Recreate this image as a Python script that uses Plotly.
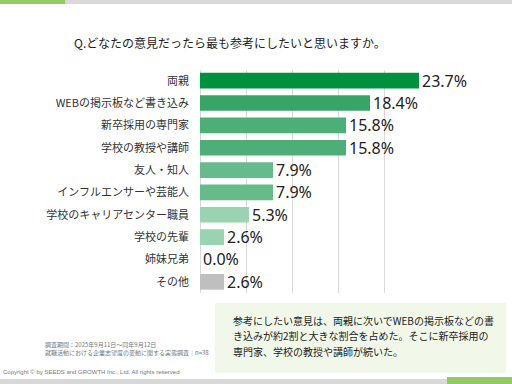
import plotly.graph_objects as go

categories = ["両親", "WEBの掲示板など書き込み", "新卒採用の専門家", "学校の教授や講師",
              "友人・知人", "インフルエンサーや芸能人", "学校のキャリアセンター職員",
              "学校の先輩", "姉妹兄弟", "その他"]
values = [23.7, 18.4, 15.8, 15.8, 7.9, 7.9, 5.3, 2.6, 0.0, 2.6]
colors = ["#00913F", "#38A468", "#4DAE78", "#4DAE78", "#67BB8B", "#67BB8B",
          "#9AD3B2", "#9AD3B2", "#9AD3B2", "#BFBFBF"]

title_text = "Q.どなたの意見だったら最も参考にしたいと思いますか。"
comment_lines = ["参考にしたい意見は、両親に次いでWEBの掲示板などの書",
                 "き込みが約2割と大きな割合を占めた。そこに新卒採用の",
                 "専門家、学校の教授や講師が続いた。"]
note_text = "調査期間：2025年9月11日～同年9月12日<br>就職活動における企業志望度の変動に関する実態調査｜n=38"
copyright_text = "Copyright © by SEEDS and GROWTH Inc., Ltd. All rights reserved"

W, H = 512, 384
def px(x):
    return x / W
def py(y):
    return 1 - y / H

JP = "Noto Sans CJK JP"

fig = go.Figure(go.Bar(
    x=values, y=categories, orientation="h",
    marker=dict(color=colors, line=dict(width=0)),
    texttemplate="%{x:.1f}%", textposition="outside", cliponaxis=False,
    constraintext="none",
    textfont=dict(family="Noto Sans", size=16, color="#222222"),
))

annotations = [
    dict(text=title_text, xref="paper", yref="paper", x=px(72), y=py(43),
         xanchor="left", yanchor="middle", showarrow=False,
         font=dict(family=JP, size=12, color="#222222")),
    dict(text=note_text, xref="paper", yref="paper", x=px(43), y=py(348),
         xanchor="left", yanchor="middle", align="left", showarrow=False,
         font=dict(family=JP, size=6, color="#777777")),
    dict(text=copyright_text, xref="paper", yref="paper", x=px(1), y=py(372),
         xanchor="left", yanchor="middle", align="left", showarrow=False,
         font=dict(family="Liberation Sans", size=6, color="#777777")),
]
for i, line in enumerate(comment_lines):
    annotations.append(dict(text=line, xref="paper", yref="paper", x=px(231), y=py(320 + 15.5 * i),
                            xanchor="left", yanchor="middle", align="left", showarrow=False,
                            font=dict(family=JP, size=10, color="#222222")))

fig.update_layout(
    width=W, height=H, template="none",
    margin=dict(l=0, r=0, t=0, b=0),
    paper_bgcolor="white", plot_bgcolor="white",
    showlegend=False, bargap=0.3,
    font=dict(family=JP, color="#222222"),
    xaxis=dict(domain=[px(200), px(431)], range=[0, 25], dtick=5,
               showgrid=True, gridcolor="#D9D9D9", gridwidth=1,
               showticklabels=False, zeroline=True, zerolinecolor="#D9D9D9",
               zerolinewidth=1, showline=False, ticks="", automargin=False),
    yaxis=dict(domain=[py(293), py(69.5)], autorange="reversed",
               showgrid=False, zeroline=False, showline=False, ticks="",
               ticklabelstandoff=10, automargin=False,
               tickfont=dict(family=JP, size=11, color="#333333")),
    shapes=[
        dict(type="rect", xref="paper", yref="paper", x0=px(0), x1=px(65), y0=py(4), y1=py(0),
             fillcolor="#92C963", line=dict(width=0), layer="below"),
        dict(type="rect", xref="paper", yref="paper", x0=px(65), x1=px(512), y0=py(4), y1=py(0),
             fillcolor="#D9D9D9", line=dict(width=0), layer="below"),
        dict(type="rect", xref="paper", yref="paper", x0=px(0), x1=px(447), y0=py(384), y1=py(379),
             fillcolor="#D9D9D9", line=dict(width=0), layer="below"),
        dict(type="rect", xref="paper", yref="paper", x0=px(447), x1=px(512), y0=py(384), y1=py(377),
             fillcolor="#92C963", line=dict(width=0), layer="below"),
        dict(type="rect", xref="paper", yref="paper", x0=px(215), x1=px(506), y0=py(373), y1=py(303),
             fillcolor="#F1F8EA", line=dict(width=0), layer="below"),
    ],
    annotations=annotations,
)

fig.write_html("out.html", config={"displayModeBar": False},
               post_script="document.body.style.margin='0';")
